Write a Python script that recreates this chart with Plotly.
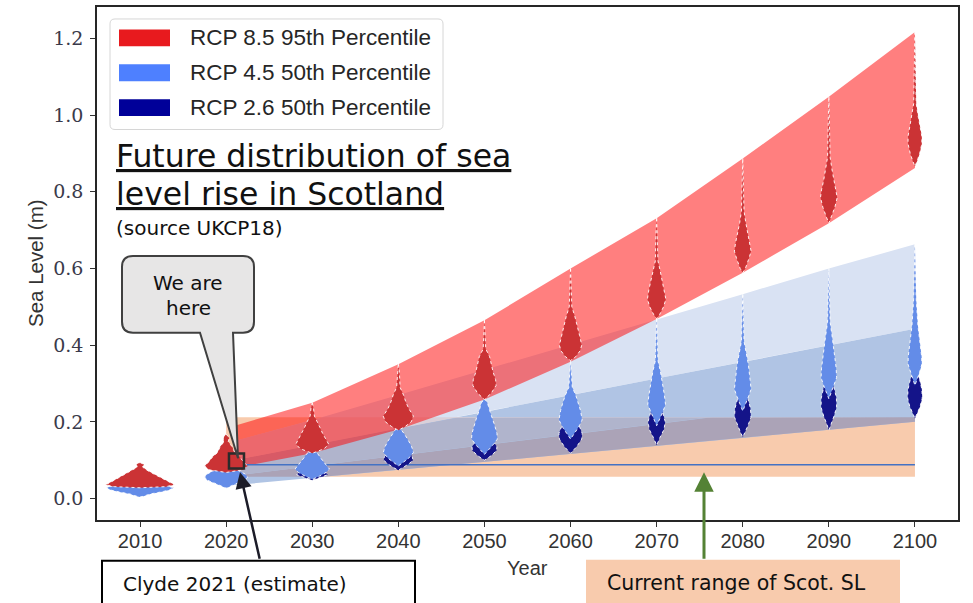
import numpy as np
import plotly.graph_objects as go

# ---------------------------------------------------------------- data
decades = [2010, 2020, 2030, 2040, 2050, 2060, 2070, 2080, 2090, 2100]
x_ticks = decades
y_ticks = [0.0, 0.2, 0.4, 0.6, 0.8, 1.0, 1.2]

# likely-range bands (m)
band_years = [2021, 2030, 2040, 2050, 2060, 2070, 2080, 2090, 2100]
rcp85_upper = [0.19, 0.25, 0.35, 0.465, 0.60, 0.731, 0.887, 1.048, 1.217]
rcp85_lower = [0.08, 0.118, 0.18, 0.258, 0.357, 0.468, 0.589, 0.718, 0.862]
rcp45_upper = [0.15, 0.205, 0.27, 0.335, 0.40, 0.467, 0.533, 0.60, 0.663]
rcp26_upper = [0.10, 0.14, 0.183, 0.226, 0.27, 0.313, 0.356, 0.40, 0.443]
blue_lower = [0.035, 0.054, 0.075, 0.096, 0.117, 0.138, 0.158, 0.179, 0.20]
blue_inner = [0.06, 0.085, 0.112, 0.14, 0.167, 0.195, 0.223, 0.25, 0.278]

# current range of Scottish sea level and the Clyde 2021 estimate
scot_years = [2020, 2100]
scot_range = [0.057, 0.212]
clyde_line_years = [2021, 2100]
clyde_level = 0.088
clyde_point = (2021.2, 0.098)

# violin outlines: (sea level m, half-width in years), top to bottom
rcp85_violins = [
    [(0.094, 0), (0.089, 0.45), (0.082, 0.3), (0.074, 0.8), (0.064, 1.6), (0.054, 2.5),
     (0.044, 3.3), (0.036, 4.0), (0.031, 3.0), (0.028, 0)],
    [(0.168, 0), (0.158, 0.35), (0.148, 0.25), (0.135, 0.7), (0.12, 1.0), (0.108, 1.6),
     (0.096, 2.0), (0.085, 2.5), (0.075, 2.0), (0.068, 0)],
    [(0.25, 0), (0.235, 0.15), (0.215, 0.25), (0.2, 0.6), (0.185, 0.9), (0.17, 1.2),
     (0.155, 1.6), (0.142, 1.9), (0.13, 1.4), (0.118, 0)],
    [(0.352, 0), (0.33, 0.12), (0.29, 0.2), (0.27, 0.6), (0.25, 0.9), (0.235, 1.2),
     (0.215, 1.75), (0.2, 1.5), (0.188, 0.8), (0.178, 0)],
    [(0.465, 0), (0.43, 0.1), (0.39, 0.15), (0.37, 0.6), (0.35, 0.8), (0.33, 1.0),
     (0.31, 1.3), (0.295, 1.35), (0.275, 0.8), (0.258, 0)],
    [(0.60, 0), (0.55, 0.1), (0.50, 0.15), (0.475, 0.5), (0.45, 0.8), (0.425, 1.05),
     (0.40, 1.3), (0.385, 1.1), (0.37, 0.6), (0.36, 0)],
    [(0.731, 0), (0.68, 0.1), (0.62, 0.15), (0.595, 0.4), (0.57, 0.65), (0.545, 0.9),
     (0.52, 1.07), (0.50, 0.8), (0.48, 0.35), (0.469, 0)],
    [(0.887, 0), (0.82, 0.1), (0.75, 0.15), (0.72, 0.35), (0.69, 0.6), (0.665, 0.85),
     (0.645, 0.97), (0.625, 0.7), (0.60, 0.3), (0.589, 0)],
    [(1.048, 0), (0.97, 0.08), (0.89, 0.15), (0.86, 0.35), (0.83, 0.6), (0.805, 0.85),
     (0.785, 0.97), (0.76, 0.7), (0.735, 0.3), (0.718, 0)],
    [(1.217, 0), (1.12, 0.08), (1.03, 0.15), (1.0, 0.35), (0.97, 0.6), (0.945, 0.8),
     (0.925, 0.8), (0.90, 0.55), (0.88, 0.25), (0.866, 0)],
]
rcp45_violins = [
    [(0.036, 0), (0.034, 3.0), (0.028, 3.9), (0.022, 3.4), (0.017, 2.4), (0.012, 1.2),
     (0.006, 0.4), (0.004, 0)],
    [(0.085, 0), (0.08, 0.8), (0.072, 1.5), (0.064, 2.2), (0.056, 2.5), (0.048, 2.2),
     (0.04, 1.3), (0.032, 0.5), (0.027, 0)],
    [(0.125, 0), (0.118, 0.6), (0.105, 1.0), (0.095, 1.3), (0.085, 1.7), (0.077, 2.0),
     (0.068, 1.6), (0.058, 0.8), (0.05, 0)],
    [(0.19, 0), (0.178, 0.4), (0.165, 0.8), (0.15, 1.2), (0.135, 1.55), (0.12, 1.75),
     (0.105, 1.2), (0.085, 0)],
    [(0.26, 0), (0.25, 0.35), (0.23, 0.6), (0.212, 0.9), (0.19, 1.2), (0.17, 1.45),
     (0.155, 1.5), (0.14, 1.0), (0.115, 0)],
    [(0.36, 0), (0.32, 0.1), (0.29, 0.2), (0.27, 0.6), (0.25, 0.9), (0.23, 1.15),
     (0.205, 1.35), (0.185, 0.9), (0.155, 0)],
    [(0.47, 0), (0.42, 0.08), (0.36, 0.15), (0.33, 0.45), (0.30, 0.7), (0.27, 0.9),
     (0.245, 1.03), (0.225, 0.7), (0.19, 0)],
    [(0.533, 0), (0.47, 0.08), (0.41, 0.15), (0.38, 0.4), (0.35, 0.65), (0.31, 0.85),
     (0.285, 0.97), (0.265, 0.65), (0.228, 0)],
    [(0.60, 0), (0.53, 0.08), (0.46, 0.15), (0.42, 0.4), (0.38, 0.65), (0.34, 0.85),
     (0.315, 0.9), (0.295, 0.6), (0.26, 0)],
    [(0.663, 0), (0.60, 0.08), (0.52, 0.15), (0.45, 0.35), (0.41, 0.6), (0.37, 0.78),
     (0.35, 0.8), (0.33, 0.55), (0.295, 0)],
]
rcp26_violins = [
    None,
    None,
    [(0.075, 0), (0.07, 1.5), (0.062, 1.8), (0.055, 0.9), (0.048, 0)],
    [(0.14, 0), (0.125, 1.0), (0.11, 1.6), (0.10, 1.7), (0.09, 1.2), (0.08, 0.5), (0.074, 0)],
    [(0.17, 0), (0.15, 1.0), (0.135, 1.45), (0.125, 1.4), (0.112, 0.8), (0.10, 0)],
    [(0.21, 0), (0.19, 1.0), (0.17, 1.35), (0.155, 1.3), (0.135, 0.7), (0.118, 0)],
    [(0.25, 0), (0.225, 0.7), (0.20, 1.0), (0.18, 0.85), (0.16, 0.4), (0.139, 0)],
    [(0.29, 0), (0.26, 0.6), (0.235, 0.9), (0.212, 0.95), (0.19, 0.6), (0.172, 0.25), (0.16, 0)],
    [(0.32, 0), (0.29, 0.6), (0.262, 0.88), (0.238, 0.9), (0.215, 0.6), (0.195, 0.25), (0.178, 0)],
    [(0.34, 0), (0.31, 0.55), (0.285, 0.8), (0.262, 0.85), (0.24, 0.6), (0.222, 0.25), (0.209, 0)],
]

legend_labels = ["RCP 8.5 95th Percentile", "RCP 4.5 50th Percentile", "RCP 2.6 50th Percentile"]
legend_colors = ["#E81A1E", "#4E80FF", "#000099"]

# ---------------------------------------------------------------- styling
ORANGE = "#F8CBAD"
LIGHT_BLUE = "#D9E2F3"
MID_BLUE = "#B0C4E4"
GREY_BLUE = "#B0B4CC"
GREY_PURPLE = "#ABA3B7"
LIGHT_ON_ORANGE = "#D8D0DA"
RED_BAND = "rgba(255,0,0,0.5)"
VIOLIN_RED = "#CB3335"
VIOLIN_BLUE = "#638CE8"
VIOLIN_NAVY = "#141489"
NOTE_FONT = "DejaVu Sans"

# plot-area geometry in pixels (used to place the overlays)
L, T, W, H = 97, 5, 861, 515


def fx(px):
    return (px - L) / W


def fy(py):
    return 1 - (py - T) / H


fig = go.Figure()


def band(xs, lo, hi, color):
    xs = list(xs)
    fig.add_trace(go.Scatter(
        x=xs + xs[::-1], y=list(hi) + list(lo)[::-1], fill="toself",
        fillcolor=color, line=dict(width=0), mode="lines",
        hoverinfo="skip", showlegend=False))


# current range of Scot. SL
band(scot_years, [scot_range[0]] * 2, [scot_range[1]] * 2, ORANGE)

# blue likely ranges
band(band_years, rcp26_upper, rcp45_upper, LIGHT_BLUE)
band(band_years, blue_lower, rcp26_upper, MID_BLUE)

# where the blue ranges sit over the current range
grid = np.linspace(band_years[0], band_years[-1], 400)
lo_s, hi_s = scot_range
e1 = np.interp(grid, band_years, blue_lower)
e2 = np.interp(grid, band_years, blue_inner)
u2 = np.interp(grid, band_years, rcp26_upper)
u1 = np.interp(grid, band_years, rcp45_upper)
band(grid, np.clip(e1, lo_s, hi_s), np.clip(np.minimum(e2, u2), lo_s, hi_s), GREY_PURPLE)
band(grid, np.clip(np.maximum(e1, e2), lo_s, hi_s), np.clip(u2, lo_s, hi_s), GREY_BLUE)
band(grid, np.clip(u2, lo_s, hi_s), np.clip(u1, lo_s, hi_s), LIGHT_ON_ORANGE)

# RCP 8.5 range
band(band_years, rcp85_lower, rcp85_upper, RED_BAND)

# Clyde 2021 level
fig.add_trace(go.Scatter(
    x=clyde_line_years, y=[clyde_level] * 2, mode="lines",
    line=dict(color="#4472C4", width=1.5), hoverinfo="skip", showlegend=False))


def violin(year, profile, color):
    ys = [p[0] for p in profile]
    ws = [p[1] for p in profile]
    xs = [year + w for w in ws] + [year - w for w in ws[::-1]]
    fig.add_trace(go.Scatter(
        x=xs, y=ys + ys[::-1], fill="toself", fillcolor=color, mode="lines",
        line=dict(color="rgba(255,255,255,0.9)", width=1, dash="dot"),
        hoverinfo="skip", showlegend=False))


for yr, prof in zip(decades, rcp26_violins):
    if prof:
        violin(yr, prof, VIOLIN_NAVY)
for yr, prof in zip(decades, rcp45_violins):
    violin(yr, prof, VIOLIN_BLUE)
for yr, prof in zip(decades, rcp85_violins):
    violin(yr, prof, VIOLIN_RED)

# Clyde 2021 estimate marker
fig.add_trace(go.Scatter(
    x=[clyde_point[0]], y=[clyde_point[1]], mode="markers",
    marker=dict(symbol="square-open", size=15, color="#2B2B2B", line=dict(width=2.5)),
    hoverinfo="skip", showlegend=False))

shapes = []
annotations = []


def rounded_rect(x0, y0, x1, y1, r):
    return (f"M {fx(x0 + r)} {fy(y0)} L {fx(x1 - r)} {fy(y0)} "
            f"Q {fx(x1)} {fy(y0)} {fx(x1)} {fy(y0 + r)} L {fx(x1)} {fy(y1 - r)} "
            f"Q {fx(x1)} {fy(y1)} {fx(x1 - r)} {fy(y1)} L {fx(x0 + r)} {fy(y1)} "
            f"Q {fx(x0)} {fy(y1)} {fx(x0)} {fy(y1 - r)} L {fx(x0)} {fy(y0 + r)} "
            f"Q {fx(x0)} {fy(y0)} {fx(x0 + r)} {fy(y0)} Z")


# legend
shapes.append(dict(type="path", xref="paper", yref="paper",
                   path=rounded_rect(110, 17, 443, 128, 5),
                   fillcolor="rgba(255,255,255,0.85)", line=dict(color="#D6D6D6", width=1)))
for i, (lab, col) in enumerate(zip(legend_labels, legend_colors)):
    yc = 36 + i * 35
    shapes.append(dict(type="rect", xref="paper", yref="paper",
                       x0=fx(119), x1=fx(170), y0=fy(yc - 8.5), y1=fy(yc + 8.5),
                       fillcolor=col, line=dict(width=0)))
    annotations.append(dict(x=fx(188), y=fy(yc), xref="paper", yref="paper",
                            text=lab, showarrow=False, xanchor="left", yanchor="middle",
                            font=dict(family="Liberation Sans", size=22.5, color="#262626")))

# speech bubble "We are here"
bx0, by0, bx1, by1, r = 122, 255, 254, 332, 11
tail_l, tail_r, tip = 200, 233, (238, 458)
bubble = (f"M {fx(bx0 + r)} {fy(by0)} L {fx(bx1 - r)} {fy(by0)} "
          f"Q {fx(bx1)} {fy(by0)} {fx(bx1)} {fy(by0 + r)} L {fx(bx1)} {fy(by1 - r)} "
          f"Q {fx(bx1)} {fy(by1)} {fx(bx1 - r)} {fy(by1)} L {fx(tail_r)} {fy(by1)} "
          f"L {fx(tip[0])} {fy(tip[1])} L {fx(tail_l)} {fy(by1)} L {fx(bx0 + r)} {fy(by1)} "
          f"Q {fx(bx0)} {fy(by1)} {fx(bx0)} {fy(by1 - r)} L {fx(bx0)} {fy(by0 + r)} "
          f"Q {fx(bx0)} {fy(by0)} {fx(bx0 + r)} {fy(by0)} Z")
shapes.append(dict(type="path", xref="paper", yref="paper", path=bubble,
                   fillcolor="#E7E6E6", line=dict(color="#404040", width=2)))
annotations.append(dict(x=fx(188), y=fy(282), xref="paper", yref="paper",
                        text="We are", showarrow=False, xanchor="center",
                        yanchor="middle", font=dict(family=NOTE_FONT, size=20, color="#111111")))
annotations.append(dict(x=fx(188), y=fy(307), xref="paper", yref="paper",
                        text="here", showarrow=False, xanchor="center",
                        yanchor="middle", font=dict(family=NOTE_FONT, size=20, color="#111111")))

# Clyde 2021 box
shapes.append(dict(type="rect", xref="paper", yref="paper",
                   x0=fx(102), x1=fx(415), y0=fy(612), y1=fy(561),
                   fillcolor="white", line=dict(color="#000000", width=2)))
annotations.append(dict(x=fx(121), y=fy(584), xref="paper", yref="paper",
                        text="Clyde 2021 (estimate)", showarrow=False, xanchor="left",
                        yanchor="middle", font=dict(family=NOTE_FONT, size=20, color="#111111")))
annotations.append(dict(x=fx(240), y=fy(472), xref="paper", yref="paper", text="",
                        showarrow=True, ax=20, ay=88, arrowhead=2, arrowsize=1.3,
                        arrowwidth=2.5, arrowcolor="#1C1C28"))

# current range box
shapes.append(dict(type="rect", xref="paper", yref="paper",
                   x0=fx(586), x1=fx(900), y0=fy(612), y1=fy(560),
                   fillcolor=ORANGE, line=dict(width=0)))
annotations.append(dict(x=fx(605), y=fy(583), xref="paper", yref="paper",
                        text="Current range of Scot. SL", showarrow=False, xanchor="left",
                        yanchor="middle", font=dict(family=NOTE_FONT, size=20.5, color="#111111")))
annotations.append(dict(x=fx(704), y=fy(472), xref="paper", yref="paper", text="",
                        showarrow=True, ax=0, ay=88, arrowhead=2, arrowsize=1.3,
                        arrowwidth=3, arrowcolor="#548235"))

# heading
annotations.append(dict(x=fx(115), y=fy(155), xref="paper", yref="paper",
                        text="<u>Future distribution of sea</u>", showarrow=False,
                        xanchor="left", yanchor="middle", borderpad=0,
                        font=dict(family=NOTE_FONT, size=31.5, color="#111111")))
annotations.append(dict(x=fx(115), y=fy(193), xref="paper", yref="paper",
                        text="<u>level rise in Scotland</u>", showarrow=False,
                        xanchor="left", yanchor="middle", borderpad=0,
                        font=dict(family=NOTE_FONT, size=31.5, color="#111111")))
annotations.append(dict(x=fx(115), y=fy(227), xref="paper", yref="paper",
                        text="(source UKCP18)", showarrow=False,
                        xanchor="left", yanchor="middle", borderpad=0,
                        font=dict(family=NOTE_FONT, size=20, color="#111111")))

# axis titles
annotations.append(dict(x=fx(527), y=fy(568), xref="paper", yref="paper",
                        text="Year", showarrow=False, xanchor="center", yanchor="middle",
                        font=dict(family="Liberation Sans", size=20, color="#333333")))
annotations.append(dict(x=fx(35), y=fy(262), xref="paper", yref="paper",
                        text="Sea Level (m)", showarrow=False, textangle=-90,
                        xanchor="center", yanchor="middle",
                        font=dict(family="Liberation Sans", size=20.5, color="#333333")))

fig.update_layout(
    width=973, height=603,
    margin=dict(l=L, r=973 - L - W, t=T, b=603 - T - H),
    paper_bgcolor="white", plot_bgcolor="white",
    showlegend=False,
    shapes=shapes, annotations=annotations,
    xaxis=dict(range=[2005, 2105], tickvals=x_ticks, ticks="outside", ticklen=5,
               tickwidth=1.2, tickcolor="#333333", showline=True, mirror=True,
               linecolor="#262626", linewidth=1.5, showgrid=False, zeroline=False,
               tickfont=dict(family="Liberation Sans", size=20, color="#333333"),
               ticklabelstandoff=-3),
    yaxis=dict(range=[-0.056, 1.282], tickvals=y_ticks, tickformat=".1f", ticks="outside",
               ticklen=5, tickwidth=1.2, tickcolor="#333333", showline=True, mirror=True,
               linecolor="#262626", linewidth=1.5, showgrid=False, zeroline=False,
               tickfont=dict(family="DejaVu Serif", size=19, color="#3A3A4A"),
               ticklabelstandoff=3),
)

fig.write_html("out.html")
